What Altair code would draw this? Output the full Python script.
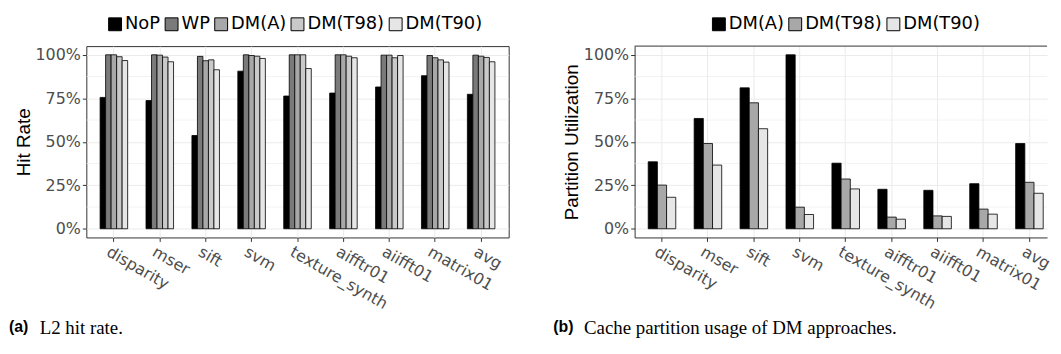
import altair as alt
import pandas as pd

# ---------------- data ----------------
benchmarks = ["disparity", "mser", "sift", "svm", "texture_synth",
              "aifftr01", "aiifft01", "matrix01", "avg"]

hit_series = ["NoP", "WP", "DM(A)", "DM(T98)", "DM(T90)"]
hit_nop = [0.755, 0.737, 0.536, 0.906, 0.763, 0.780, 0.815, 0.880, 0.773]
hit_wp = [1.000, 1.000, 0.991, 1.000, 1.000, 1.000, 0.998, 0.996, 0.998]
hit_dma = [1.000, 0.998, 0.966, 0.996, 1.000, 1.000, 0.998, 0.983, 0.992]
hit_t98 = [0.989, 0.987, 0.971, 0.992, 1.000, 0.992, 0.983, 0.971, 0.985]
hit_t90 = [0.967, 0.960, 0.914, 0.979, 0.921, 0.983, 0.996, 0.958, 0.960]

util_series = ["DM(A)", "DM(T98)", "DM(T90)"]
util_dma = [0.385, 0.634, 0.810, 1.000, 0.377, 0.227, 0.221, 0.259, 0.490]
util_t98 = [0.251, 0.490, 0.724, 0.124, 0.286, 0.067, 0.074, 0.113, 0.267]
util_t90 = [0.181, 0.366, 0.575, 0.082, 0.229, 0.055, 0.071, 0.084, 0.204]

hit_colors = ["#000000", "#7a7a7a", "#a8a8a8", "#c9c9c9", "#e6e6e6"]
util_colors = ["#000000", "#a8a8a8", "#e6e6e6"]

major_ticks = [0, 0.25, 0.5, 0.75, 1.0]
minor_grid = [0.125, 0.375, 0.625, 0.875]


def long_df(series, arrays):
    rows = []
    for s, arr in zip(series, arrays):
        for b, v in zip(benchmarks, arr):
            rows.append({"bench": b, "series": s, "value": v})
    return pd.DataFrame(rows)


hit_df = long_df(hit_series, [hit_nop, hit_wp, hit_dma, hit_t98, hit_t90])
util_df = long_df(util_series, [util_dma, util_t98, util_t90])

FONT = "DejaVu Sans"
TITLE_FONT = "Liberation Sans"
CAP_FONT = "Liberation Serif"
H = 193
BORDER = "#333333"


def panel(df, series, colors, ytitle, legend_x, tag, caption, cap_x,
          width, x_scale, clipped):
    y_def = alt.Y(
        "value:Q",
        scale=alt.Scale(domain=[-0.05, 1.05], nice=False, zero=False),
        axis=alt.Axis(
            title=ytitle, values=major_ticks, format="%",
            labelFont=FONT, labelFontSize=16, labelColor="#4d4d4d",
            labelPadding=2, tickColor=BORDER, tickSize=4,
            domain=clipped, domainColor=BORDER, domainWidth=1,
            grid=True, gridColor="#ebebeb", gridWidth=1,
            titleFont=TITLE_FONT, titleFontSize=19, titleFontWeight="normal",
            titleColor="black", titlePadding=2,
        ),
    )
    x_def = alt.X(
        "bench:N", sort=benchmarks, scale=x_scale,
        axis=alt.Axis(
            title=None, labelAngle=30, labelAlign="left", labelBaseline="top",
            labelFont=FONT, labelFontSize=16, labelColor="#4d4d4d",
            labelPadding=2, labelOffset=-2, tickColor=BORDER, tickSize=4,
            domain=clipped, domainColor=BORDER, domainWidth=1,
            grid=True, gridColor="#ebebeb", gridWidth=1, bandPosition=0.5,
        ),
    )
    grid = alt.Chart(pd.DataFrame({"value": minor_grid})).mark_rule(
        color="#ebebeb", strokeWidth=0.6
    ).encode(y=y_def)
    bars = alt.Chart(df).mark_bar(stroke="black", strokeWidth=0.8).encode(
        x=x_def,
        xOffset=alt.XOffset("series:N", sort=series,
                            scale=alt.Scale(paddingInner=0, paddingOuter=0)),
        y=y_def,
        y2=alt.datum(0),
        color=alt.Color(
            "series:N", sort=series,
            scale=alt.Scale(domain=series, range=colors),
            legend=alt.Legend(
                orient="none", legendX=legend_x, legendY=-31,
                direction="horizontal", title=None,
                symbolType="square", symbolSize=169,
                symbolStrokeColor="black", symbolStrokeWidth=1,
                symbolOpacity=1,
                labelFont=FONT, labelFontSize=18, labelColor="black",
                labelOffset=1, columnPadding=2, padding=0,
            ),
        ),
    )
    tag_mark = alt.Chart(pd.DataFrame({"t": [tag]})).mark_text(
        font=TITLE_FONT, fontSize=16, fontWeight="bold", align="left",
        baseline="middle", color="black"
    ).encode(x=alt.value(cap_x), y=alt.value(283), text="t:N")
    cap_mark = alt.Chart(pd.DataFrame({"t": [caption]})).mark_text(
        font=CAP_FONT, fontSize=19, align="left",
        baseline="middle", color="black"
    ).encode(x=alt.value(cap_x + 31), y=alt.value(284), text="t:N")
    layers = [grid, bars, tag_mark, cap_mark]
    if clipped:
        top_line = alt.Chart(pd.DataFrame({"t": [0]})).mark_rule(
            color=BORDER, strokeWidth=1
        ).encode(x=alt.value(0), x2=alt.value(width), y=alt.value(0))
        layers.append(top_line)
        return alt.layer(*layers).properties(
            width=width, height=H,
            view=alt.ViewBackground(stroke="transparent"),
        )
    return alt.layer(*layers).properties(width=width, height=H)


left = panel(hit_df, hit_series, hit_colors, "Hit Rate", 20,
             "(a)", "L2 hit rate.", -78, 426,
             alt.Scale(paddingInner=0.4, paddingOuter=0.3), False)
# right panel runs off the page edge in the original: keep the same band step
# but stop the drawing area at the page edge
right = panel(util_df, util_series, util_colors, "Partition Utilization", 76,
              "(b)", "Cache partition usage of DM approaches.", -82, 416,
              alt.Scale(paddingInner=0.4, paddingOuter=0.19, align=0.78), True)

chart = alt.hconcat(left, right, spacing=43).resolve_scale(
    x="independent", y="independent", xOffset="independent", color="independent"
).configure_view(stroke=BORDER, strokeWidth=1).properties(
    padding={"left": 0, "top": 5, "right": 0, "bottom": 0}
)

chart.save("out.html", embed_options={"renderer": "svg", "actions": False})
